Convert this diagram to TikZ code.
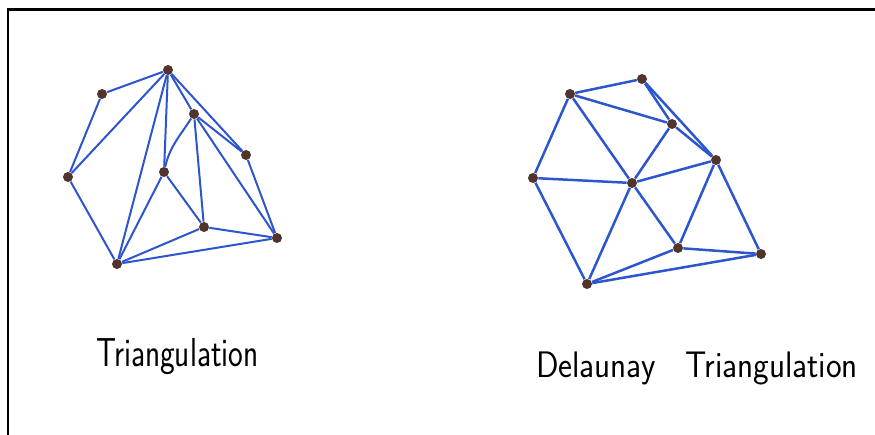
\documentclass[tikz,border=0pt]{standalone}
\definecolor{penblue}{RGB}{45,85,205}
\definecolor{dotbrown}{RGB}{80,52,45}
\tikzset{
  pt/.style={circle,fill=dotbrown,inner sep=0pt,minimum size=0.2cm},
  link/.style={penblue,line width=0.04cm},
  hand/.style={font=\sffamily\fontsize{21}{25}\selectfont,anchor=base,xscale=0.9}
}
\begin{document}
\begin{tikzpicture}

\useasboundingbox (0,0) rectangle (17.5,8.7);

% Cadre
\draw[line width=0.05cm] (0.16,0) -- (0.16,8.51) -- (17.5,8.51);

% Triangulation
\begin{scope}

\node[pt] (A) at (3.36,7.30) {};
\node[pt] (B) at (2.04,6.82) {};
\node[pt] (C) at (1.36,5.16) {};
\node[pt] (D) at (3.88,6.42) {};
\node[pt] (E) at (4.92,5.60) {};
\node[pt] (F) at (3.28,5.26) {};
\node[pt] (G) at (4.08,4.16) {};
\node[pt] (H) at (5.54,3.94) {};
\node[pt] (I) at (2.34,3.42) {};

\draw[link] (A) -- (B) -- (C) -- (I) -- (H) -- (E) -- (A);
\draw[link] (C) -- (A) -- (I);
\draw[link] (A) -- (F) -- (I);
\draw[link] (A) -- (D) -- (E);
\draw[link] (F) .. controls (3.40,5.78) and (3.60,5.98) .. (D);
\draw[link] (D) -- (G);
\draw[link] (D) -- (H);
\draw[link] (F) -- (G) -- (I);
\draw[link] (G) -- (H);

\node[hand,font=\sffamily\fontsize{23}{27}\selectfont,xscale=0.86] (tri) at (3.55,1.36) {Triangulation};

\end{scope}

% Delaunay
\begin{scope}

\node[pt] (P1) at (12.84,7.12) {};
\node[pt] (P2) at (11.40,6.82) {};
\node[pt] (P3) at (13.44,6.22) {};
\node[pt] (P4) at (14.32,5.50) {};
\node[pt] (P5) at (10.66,5.14) {};
\node[pt] (P6) at (12.64,5.04) {};
\node[pt] (P7) at (13.56,3.74) {};
\node[pt] (P8) at (15.22,3.62) {};
\node[pt] (P9) at (11.74,3.02) {};

\draw[link,line width=0.05cm] (P2) -- (P1) -- (P4) -- (P8) -- (P9) -- (P5) -- (P2);
\draw[link,line width=0.05cm] (P2) -- (P3) -- (P1);
\draw[link,line width=0.05cm] (P3) -- (P4) -- (P6) -- (P3);
\draw[link,line width=0.05cm] (P2) -- (P6) -- (P5);
\draw[link,line width=0.05cm] (P9) -- (P6) -- (P7) -- (P4);
\draw[link,line width=0.05cm] (P9) -- (P7) -- (P8);

\node[hand] (del) at (13.94,1.14) {Delaunay\hspace{0.6em} Triangulation};

\end{scope}

\end{tikzpicture}
\end{document}
